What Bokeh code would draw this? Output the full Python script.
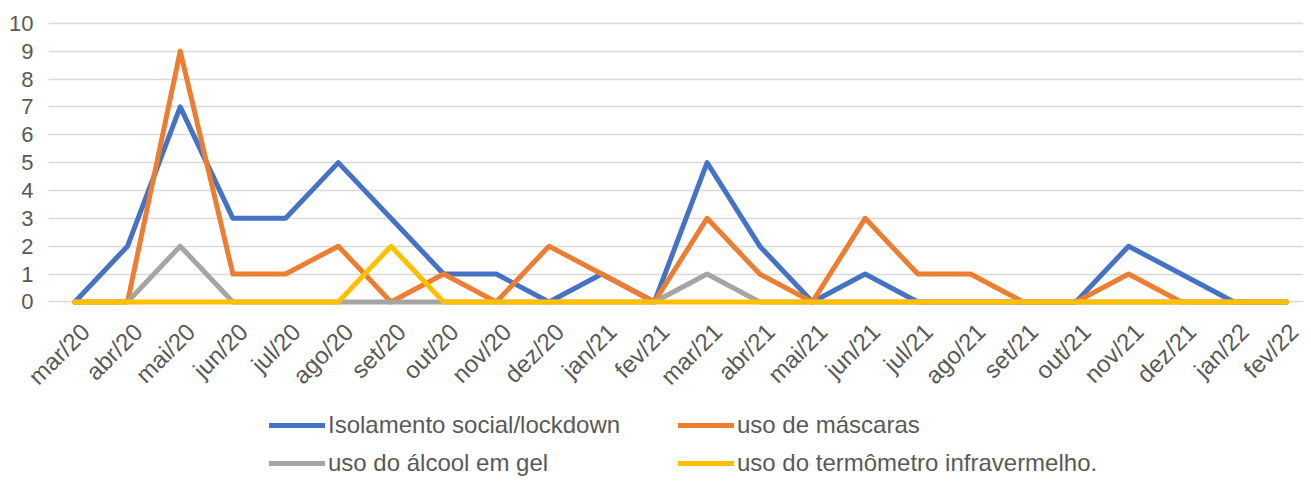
import math
from bokeh.plotting import figure
from bokeh.layouts import column
from bokeh.models import Range1d, FixedTicker, Legend, LegendItem, CustomJSTickFormatter
from bokeh.embed import file_html
from bokeh.resources import INLINE

months = ["mar/20", "abr/20", "mai/20", "jun/20", "jul/20", "ago/20", "set/20", "out/20",
          "nov/20", "dez/20", "jan/21", "fev/21", "mar/21", "abr/21", "mai/21", "jun/21",
          "jul/21", "ago/21", "set/21", "out/21", "nov/21", "dez/21", "jan/22", "fev/22"]
isolamento = [0, 2, 7, 3, 3, 5, 3, 1, 1, 0, 1, 0, 5, 2, 0, 1, 0, 0, 0, 0, 2, 1, 0, 0]
mascaras = [0, 0, 9, 1, 1, 2, 0, 1, 0, 2, 1, 0, 3, 1, 0, 3, 1, 1, 0, 0, 1, 0, 0, 0]
alcool = [0, 0, 2, 0, 0, 0, 0, 0, 0, 0, 0, 0, 1, 0, 0, 0, 0, 0, 0, 0, 0, 0, 0, 0]
termometro = [0, 0, 0, 0, 0, 0, 2, 0, 0, 0, 0, 0, 0, 0, 0, 0, 0, 0, 0, 0, 0, 0, 0, 0]
series_names = ["Isolamento social/lockdown", "uso de máscaras",
                "uso do álcool em gel", "uso do termômetro infravermelho."]
colors = ["#4472C4", "#ED7D31", "#A5A5A5", "#FFC000"]

x = list(range(len(months)))
FONT = "Liberation Sans"
TXT = "#595959"
LABEL_SHIFT = -0.2
LW = 5

p = figure(frame_width=1255, frame_height=287, output_backend="svg", toolbar_location=None,
           x_range=Range1d(-0.5, 23.32), y_range=Range1d(-0.2, 10.1),
           min_border_left=48, min_border_right=0, min_border_top=20, min_border_bottom=95)
p.outline_line_color = None
p.xgrid.grid_line_color = None
p.ygrid.grid_line_color = "#D9D9D9"
p.ygrid.grid_line_width = 1.5
p.yaxis.ticker = FixedTicker(ticks=list(range(0, 11)))
p.xaxis.ticker = FixedTicker(ticks=[i - LABEL_SHIFT for i in x])
p.xaxis.formatter = CustomJSTickFormatter(
    args=dict(labels=months, shift=LABEL_SHIFT),
    code="return labels[Math.round(tick + shift)];")
p.xaxis.major_label_orientation = math.pi / 4
for ax in (p.xaxis, p.yaxis):
    ax.axis_line_color = None
    ax.major_tick_line_color = None
    ax.minor_tick_line_color = None
    ax.major_label_text_font = FONT
    ax.major_label_text_color = TXT
p.yaxis.major_label_text_font_size = "22px"
p.xaxis.major_label_text_font_size = "24px"
p.yaxis.major_label_standoff = 9
p.xaxis.major_label_standoff = 14

renderers = []
for ys, c in zip([isolamento, mascaras, alcool, termometro], colors):
    r = p.line(x, ys, line_color=c, line_width=LW, line_cap="round", line_join="round")
    renderers.append(r)

# legend-only figure; its proxy lines sit outside its visible range
lf = figure(width=1303, height=75, output_backend="svg", toolbar_location=None,
            x_range=Range1d(0, 1), y_range=Range1d(0, 1),
            min_border_left=0, min_border_right=0, min_border_top=0, min_border_bottom=0)
lf.axis.visible = False
lf.grid.visible = False
lf.outline_line_color = None
lrs = [lf.line([5, 6], [5, 6], line_color=c, line_width=LW, line_cap="round") for c in colors]

order = [0, 2, 1, 3]
items = [LegendItem(label=series_names[i], renderers=[lrs[i]]) for i in order]
legend = Legend(items=items, ncols=2, location=(221, 0),
                label_text_font=FONT, label_text_font_size="24px", label_text_color=TXT,
                glyph_width=56, glyph_height=26, label_height=26, label_width=340,
                label_standoff=3, spacing=10,
                border_line_color=None, background_fill_alpha=0, padding=0, margin=0)
lf.add_layout(legend)

layout = column(p, lf, spacing=0)
open("out.html", "w").write(file_html(layout, INLINE))
